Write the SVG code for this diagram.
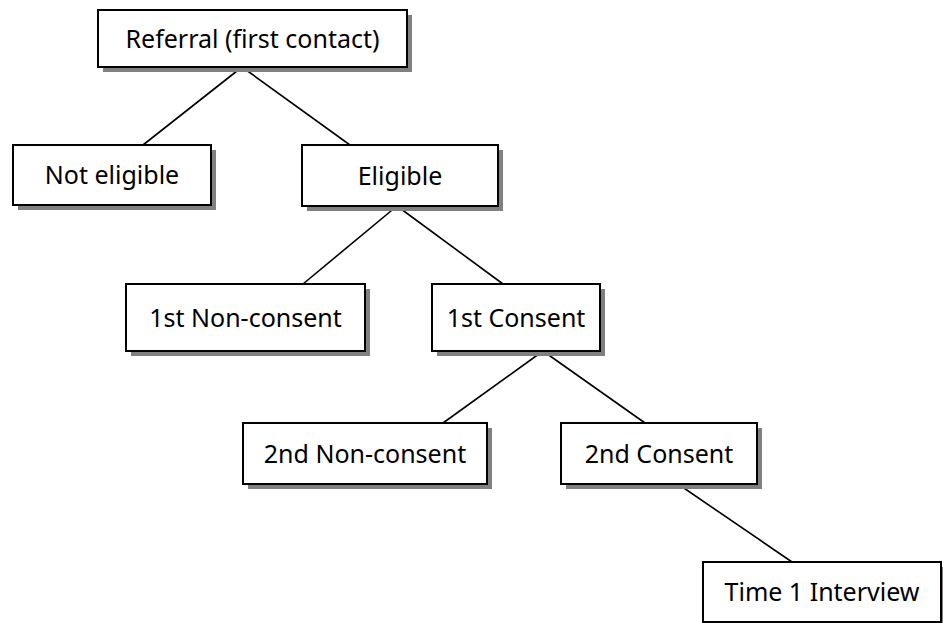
<svg xmlns="http://www.w3.org/2000/svg" width="943" height="623" viewBox="0 0 943 623">
<style>
.shadow{fill:#808080;}
.box{fill:#ffffff;stroke:#000000;stroke-width:2;}
.lbl{font-family:"Noto Sans","Open Sans",sans-serif;font-size:25px;fill:#000000;text-anchor:middle;}
.conn line{stroke:#000000;stroke-width:1.6;}
</style>
<rect width="943" height="623" fill="#ffffff"/>
<g id="connectors" class="conn">
<line x1="242" y1="67" x2="143" y2="145"/>
<line x1="242" y1="67" x2="350" y2="145"/>
<line x1="397" y1="206" x2="303" y2="284"/>
<line x1="397" y1="206" x2="503" y2="284"/>
<line x1="543" y1="351" x2="443" y2="423"/>
<line x1="543" y1="351" x2="645" y2="423"/>
<line x1="678" y1="484" x2="792" y2="562"/>
</g>
<g id="referral">
<rect class="shadow" x="103" y="15" width="309" height="57"/>
<rect class="box" x="98" y="10" width="309" height="57"/>
<text class="lbl" x="252.5" y="47.5">Referral (first contact)</text>
</g>
<g id="not-eligible">
<rect class="shadow" x="18" y="150" width="198" height="60"/>
<rect class="box" x="13" y="145" width="198" height="60"/>
<text class="lbl" x="112" y="184">Not eligible</text>
</g>
<g id="eligible">
<rect class="shadow" x="307" y="150" width="196" height="61"/>
<rect class="box" x="302" y="145" width="196" height="61"/>
<text class="lbl" x="400" y="184.5">Eligible</text>
</g>
<g id="first-non-consent">
<rect class="shadow" x="131" y="289" width="239" height="67"/>
<rect class="box" x="126" y="284" width="239" height="67"/>
<text class="lbl" x="245.5" y="326.5">1st Non-consent</text>
</g>
<g id="first-consent">
<rect class="shadow" x="437" y="289" width="168" height="67"/>
<rect class="box" x="432" y="284" width="168" height="67"/>
<text class="lbl" x="516" y="326.5">1st Consent</text>
</g>
<g id="second-non-consent">
<rect class="shadow" x="248" y="428" width="244" height="61"/>
<rect class="box" x="243" y="423" width="244" height="61"/>
<text class="lbl" x="365" y="462.5">2nd Non-consent</text>
</g>
<g id="second-consent">
<rect class="shadow" x="566" y="428" width="196" height="61"/>
<rect class="box" x="561" y="423" width="196" height="61"/>
<text class="lbl" x="659" y="462.5">2nd Consent</text>
</g>
<g id="time1-interview">
<rect class="shadow" x="708" y="567" width="238" height="60"/>
<rect class="box" x="703" y="562" width="238" height="60"/>
<text class="lbl" x="822" y="601">Time 1 Interview</text>
</g>
</svg>
